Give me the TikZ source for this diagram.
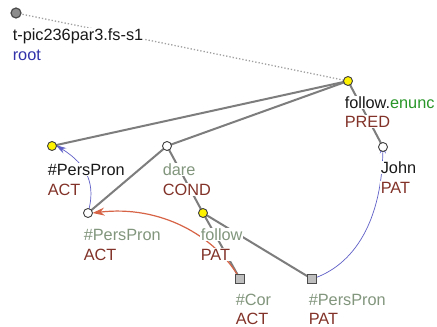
\documentclass[tikz,border=0pt]{standalone}
\usepackage{fontspec}
\setmainfont{Liberation Sans}
\usetikzlibrary{arrows.meta}
\definecolor{edgegray}{RGB}{125,125,125}
\definecolor{dotgray}{RGB}{160,160,160}
\definecolor{txtblack}{RGB}{25,25,25}
\definecolor{txtgreen}{RGB}{130,150,125}
\definecolor{fnred}{RGB}{130,50,40}
\definecolor{rootblue}{RGB}{50,50,170}
\definecolor{enuncgreen}{RGB}{40,150,40}
\definecolor{corefred}{RGB}{215,100,70}
\definecolor{corefblue}{RGB}{95,95,200}
\definecolor{sqgray}{RGB}{190,190,190}
\tikzset{
  x=1pt,y=-1pt,
  lbl/.style={anchor=base west,inner sep=0.6pt,fill=white,font=\fontsize{16.3}{18}\selectfont},
  nodelbl/.style={lbl,text=txtblack},
  hidlbl/.style={lbl,text=txtgreen},
  fnlbl/.style={lbl,text=fnred},
  yel/.style={circle,draw=black!75,fill=yellow,line width=0.9pt,minimum size=9pt,inner sep=0pt},
  wht/.style={circle,draw=black!75,fill=white,line width=0.9pt,minimum size=9pt,inner sep=0pt},
  rt/.style={circle,draw=black!70,fill=black!45,line width=1.2pt,minimum size=10pt,inner sep=0pt},
  sq/.style={rectangle,draw=black!70,fill=sqgray,line width=0.9pt,minimum size=9pt,inner sep=0pt},
  edge/.style={draw=edgegray,line width=2pt},
  blu/.style={draw=corefblue,line width=0.7pt,-{Stealth[length=11pt,width=6pt]}},
  orn/.style={draw=corefred,line width=0.8pt,-{Stealth[length=12pt,width=8pt]}},
}
\begin{document}
\begin{tikzpicture}
\useasboundingbox[fill=white] (0,0) rectangle (437,327);
\begin{scope}
\clip (0,0) rectangle (437,327);
% node positions
\coordinate (pRoot) at (16,13);
\coordinate (pFol) at (348,81);
\coordinate (pPP1) at (52,146);
\coordinate (pDare) at (167,146);
\coordinate (pJohn) at (383,147);
\coordinate (pPP2) at (88,213);
\coordinate (pFol2) at (203,213);
\coordinate (pCor) at (240,279);
\coordinate (pPP3) at (312,279);
% edges
\draw[dotgray,line width=1.3pt,dotted] (pRoot) -- (pFol);
\draw[edge] (pFol) -- (pPP1);
\draw[edge] (pFol) -- (pDare);
\draw[edge] (pFol) -- (pJohn);
\draw[edge] (pDare) -- (pPP2);
\draw[edge] (pDare) -- (pFol2);
\draw[edge] (pFol2) -- (pCor);
\draw[edge] (pFol2) -- (pPP3);
% coreference arrows
\draw[orn,line width=1.2pt] (pCor) .. controls (215,235) and (160,205) .. ([xshift=4.5pt]pPP2);
\draw[blu] (pPP2) .. controls (96,185) and (88,165) .. ([xshift=3.5pt,yshift=1pt]pPP1);
\draw[blu] (pPP3) .. controls (355,265) and (382,220) .. ([yshift=4.5pt]pJohn);
% labels
\node[nodelbl] (tRoot) at (12,40) {t-pic236par3.fs-s1};
\node[lbl,text=rootblue] (tRootF) at (12,60) {root};
\node[nodelbl] (tFol) at (344,108) {follow.\textcolor{enuncgreen}{enunc}};
\node[fnlbl] (tFolF) at (344,127) {PRED};
\node[nodelbl] (tPP1) at (47,175) {\#PersPron};
\node[fnlbl] (tPP1F) at (47,195) {ACT};
\node[hidlbl] (tDare) at (162,175) {dare};
\node[fnlbl] (tDareF) at (162,195) {COND};
\node[nodelbl] (tJohn) at (380,173) {John};
\node[fnlbl] (tJohnF) at (380,193) {PAT};
\node[hidlbl] (tPP2) at (83,240) {\#PersPron};
\node[fnlbl] (tPP2F) at (83,260) {ACT};
\node[hidlbl] (tFol2) at (200,240) {follow};
\node[fnlbl] (tFol2F) at (200,260) {PAT};
\node[hidlbl] (tCor) at (235,305) {\#Cor};
\node[fnlbl] (tCorF) at (235,324) {ACT};
\node[hidlbl] (tPP3) at (308,305) {\#PersPron};
\node[fnlbl] (tPP3F) at (308,324) {PAT};
% node symbols
\node[rt] (root) at (pRoot) {};
\node[yel] (fol) at (pFol) {};
\node[yel] (pp1) at (pPP1) {};
\node[wht] (dare) at (pDare) {};
\node[wht] (john) at (pJohn) {};
\node[wht] (pp2) at (pPP2) {};
\node[yel] (fol2) at (pFol2) {};
\node[sq] (cor) at (pCor) {};
\node[sq] (pp3) at (pPP3) {};
\end{scope}
\end{tikzpicture}
\end{document}
